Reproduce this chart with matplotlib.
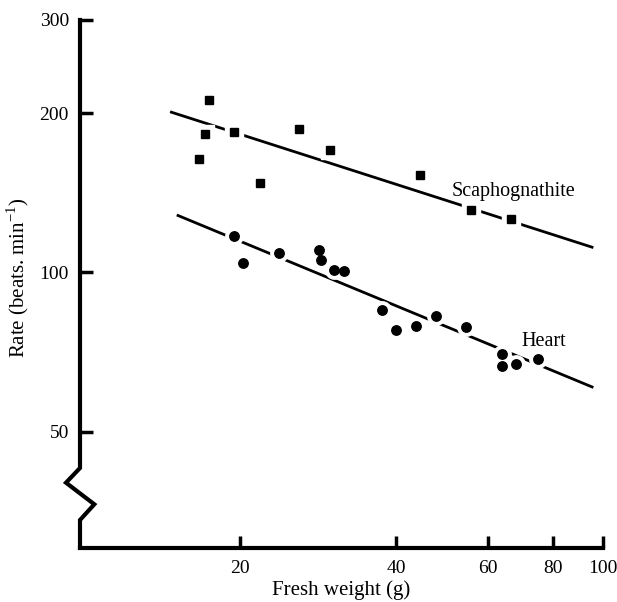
import matplotlib
matplotlib.use("Agg")
import matplotlib.pyplot as plt
import matplotlib.ticker as mticker

plt.rcParams['font.family'] = ['Liberation Serif', 'DejaVu Serif']
plt.rcParams['mathtext.fontset'] = 'custom'
plt.rcParams['mathtext.rm'] = 'Liberation Serif'

# Scaphognathite beat rate (squares)
scaph_weight = [17.4, 17.1, 16.7, 19.5, 21.8, 26.0, 29.8, 44.5, 55.6, 66.4]
scaph_rate = [211.7, 183.0, 163.5, 183.9, 147.4, 186.8, 170.2, 152.9, 131.0, 126.4]

# Heart rate (circles)
heart_weight = [19.45, 20.3, 23.8, 28.4, 28.6, 30.4, 31.7, 37.5, 39.9, 43.6,
                47.8, 54.4, 64.0, 63.8, 67.9, 75.0]
heart_rate = [117.2, 104.0, 108.8, 110.2, 105.4, 100.9, 100.7, 85.0, 77.8, 79.1,
              82.6, 78.9, 70.2, 66.4, 67.2, 68.7]

# Regression lines (end points)
scaph_line_w = [14.66, 95.9]
scaph_line_r = [201.2, 111.4]
heart_line_w = [15.1, 95.9]
heart_line_r = [128.4, 60.6]

x_ticks = [20, 40, 60, 80, 100]
y_ticks = [50, 100, 200, 300]

fig = plt.figure(figsize=(6.17, 6.02), dpi=100)
L, R, B, T = 80, 602.8, 547.5, 20
ax = fig.add_axes([L / 617, 1 - B / 602, (R - L) / 617, (B - T) / 602])
ax.set_xscale('log')
ax.set_yscale('log')
ax.set_xlim(9.83, 100)
ax.set_ylim(30.2, 300)

lw = 2.0
ax.plot(scaph_line_w, scaph_line_r, color='black', lw=lw, solid_capstyle='butt', zorder=2)
ax.plot(heart_line_w, heart_line_r, color='black', lw=lw, solid_capstyle='butt', zorder=2)

# white halos to break lines around markers
ax.plot(scaph_weight, scaph_rate, 's', ms=13, color='white', mec='white', zorder=3)
ax.plot(heart_weight, heart_rate, 'o', ms=12.5, color='white', mec='white', zorder=3)
ax.plot(scaph_weight, scaph_rate, 's', ms=6.2, color='black', mec='black', zorder=4)
ax.plot(heart_weight, heart_rate, 'o', ms=6.8, color='black', mec='black', zorder=4)

ax.text(51.2, 139.5, 'Scaphognathite', fontsize=14.5, va='baseline', ha='left')
ax.text(69.8, 72.5, 'Heart', fontsize=14.5, va='baseline', ha='left')

for s in ['top', 'right', 'left']:
    ax.spines[s].set_visible(False)
ax.spines['bottom'].set_linewidth(3)
ax.spines['bottom'].set_capstyle('projecting')

# custom left axis with break zigzag (axes coords)
xb = lambda px: (px - L) / (R - L)
yb = lambda py: (B - py) / (B - T)
zx = [xb(80), xb(80), xb(66), xb(94.3), xb(80), xb(80)]
zy = [1.0, yb(468), yb(482.7), yb(504.3), yb(520), 0.0]
ax.plot(zx, zy, transform=ax.transAxes, color='black', lw=3, clip_on=False,
        solid_joinstyle='miter', solid_capstyle='projecting', zorder=5)

ax.set_xticks(x_ticks)
ax.set_xticklabels([str(t) for t in x_ticks])
ax.xaxis.set_minor_locator(mticker.NullLocator())
ax.set_yticks(y_ticks)
ax.set_yticklabels([str(t) for t in y_ticks])
ax.yaxis.set_minor_locator(mticker.NullLocator())
ax.tick_params(axis='both', direction='in', length=9, width=2.5, labelsize=14)
ax.tick_params(axis='x', pad=9)
ax.tick_params(axis='y', pad=8)

ax.set_xlabel('Fresh weight (g)', fontsize=15, labelpad=2)
fig.text(18 / 617, 1 - 278 / 602, 'Rate (beats. min$^{-1}$)', rotation=90,
         ha='center', va='center', fontsize=15)

fig.savefig('out.png', dpi=100)
